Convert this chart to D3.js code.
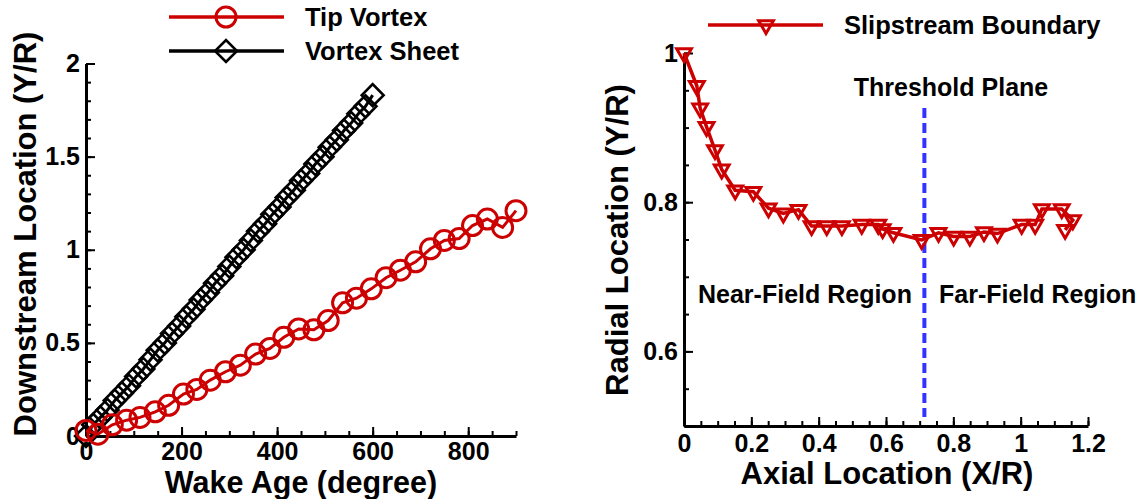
<!DOCTYPE html>
<html>
<head>
<meta charset="utf-8">
<script src="https://cdn.jsdelivr.net/npm/d3@7"></script>
<style>
  body { margin: 0; background: #fff; }
  svg text { font-family: "Liberation Sans", Arial, sans-serif; font-weight: bold; fill: #000; }
</style>
</head>
<body>
<svg id="chart" width="1141" height="499"></svg>
<script>
// ---- data: left panel (wake age in degrees, downstream location Y/R)
var tipAge = [0, 25, 55, 85, 113, 145, 173, 204, 232, 260, 292, 323, 355, 385, 414, 445,
  477, 507, 537, 566, 597, 628, 658, 690, 721, 750, 781, 809, 840, 872, 900];
var tipY = [0.03, 0.01, 0.06, 0.085, 0.10, 0.13, 0.165, 0.225, 0.25, 0.30, 0.345, 0.38, 0.44, 0.47, 0.53, 0.575,
  0.57, 0.62, 0.715, 0.74, 0.79, 0.85, 0.89, 0.935, 1.005, 1.05, 1.06, 1.13, 1.165, 1.12, 1.21];

var sheetAge = [0, 15, 30, 45, 60, 75, 90, 105, 120, 135, 150, 165, 180, 195, 210, 225, 240, 255, 270, 285,
  300, 315, 330, 345, 360, 375, 390, 405, 420, 435, 450, 465, 480, 495, 510, 525, 540, 555, 570, 585, 600];
var sheetY = [0.00, 0.06, 0.10, 0.14, 0.19, 0.23, 0.27, 0.32, 0.36, 0.41, 0.46, 0.50, 0.55, 0.59, 0.64, 0.68,
  0.73, 0.77, 0.82, 0.86, 0.91, 0.96, 1.00, 1.05, 1.10, 1.14, 1.19, 1.23, 1.28, 1.32, 1.37, 1.41, 1.46, 1.50,
  1.55, 1.59, 1.64, 1.68, 1.73, 1.77, 1.83];

// ---- data: right panel (axial X/R, radial Y/R)
var slipX = [0, 0.038, 0.048, 0.067, 0.092, 0.112, 0.152, 0.206, 0.251, 0.295, 0.340, 0.379, 0.424, 0.469,
  0.528, 0.577, 0.590, 0.622, 0.706, 0.756, 0.801, 0.849, 0.891, 0.931, 1.003, 1.043, 1.063, 1.122, 1.155, 1.132];
var slipY = [1.0, 0.956, 0.926, 0.901, 0.870, 0.844, 0.816, 0.814, 0.792, 0.785, 0.790, 0.768, 0.768, 0.768,
  0.770, 0.770, 0.764, 0.759, 0.7495, 0.759, 0.754, 0.754, 0.760, 0.758, 0.770, 0.770, 0.791, 0.791, 0.776, 0.763];

var thresholdX = 0.714;

var leftXMajor = [0, 200, 400, 600, 800];
var leftYMajor = [0, 0.5, 1, 1.5, 2];
var rightXMajor = [0, 0.2, 0.4, 0.6, 0.8, 1, 1.2];
var rightYMajor = [0.6, 0.8, 1];

var RED = "#cc0000";
var BLUE = "#3333ff";

var svg = d3.select("#chart");

// scales
var xL = d3.scaleLinear().domain([0, 900]).range([86, 516]);
var yL = d3.scaleLinear().domain([0, 2]).range([436, 63.5]);
var xR = d3.scaleLinear().domain([0, 1.2]).range([684, 1088]);
var yR = d3.scaleLinear().domain([0.5, 1]).range([426, 53]);

function fmt(d) { return d3.format("~g")(d); }

// inward ticks: minor set without labels, major set with labels
function drawAxis(g, axisFn, scale, minor, major, pad) {
  var gMinor = g.append("g")
    .call(axisFn(scale).tickValues(minor).tickSize(-5).tickSizeOuter(0).tickFormat(""));
  g.append("g")
    .call(axisFn(scale).tickValues(major).tickSize(-9).tickSizeOuter(0).tickPadding(pad).tickFormat(fmt));
  gMinor.select(".domain").remove();
  g.selectAll("line").attr("stroke", "#000").attr("stroke-width", 2);
  g.selectAll(".domain").attr("stroke", "#000").attr("stroke-width", 3);
  g.selectAll("text").style("font-size", "25px").style("font-family", '"Liberation Sans", Arial, sans-serif')
    .style("font-weight", "bold").attr("fill", "#000");
  return g;
}

// ---------------- left panel
var left = svg.append("g");

drawAxis(left.append("g").attr("transform", "translate(0," + yL(0) + ")"), d3.axisBottom, xL,
  d3.range(0, 901, 50), leftXMajor, 6);
drawAxis(left.append("g").attr("transform", "translate(" + xL(0) + ",0)"), d3.axisLeft, yL,
  d3.range(0, 21).map(function (i) { return i / 10; }), leftYMajor, 6);

var lineL = d3.line().x(function (d) { return xL(d[0]); }).y(function (d) { return yL(d[1]); });

var sheetPts = d3.zip(sheetAge, sheetY);
var tipPts = d3.zip(tipAge, tipY);
var diamond = d3.symbol().type(d3.symbolSquare).size(240);

left.append("path").datum(sheetPts).attr("d", lineL)
  .attr("fill", "none").attr("stroke", "#000").attr("stroke-width", 3);
left.selectAll(".dia").data(sheetPts).enter().append("path")
  .attr("d", diamond)
  .attr("transform", function (d) { return "translate(" + xL(d[0]) + "," + yL(d[1]) + ") rotate(45)"; })
  .attr("fill", "none").attr("stroke", "#000").attr("stroke-width", 2.6);

left.append("path").datum(tipPts).attr("d", lineL)
  .attr("fill", "none").attr("stroke", RED).attr("stroke-width", 3);
left.selectAll(".circ").data(tipPts).enter().append("circle")
  .attr("cx", function (d) { return xL(d[0]); })
  .attr("cy", function (d) { return yL(d[1]); })
  .attr("r", 10)
  .attr("fill", "none").attr("stroke", RED).attr("stroke-width", 3);

// axis titles
left.append("text").attr("x", 301).attr("y", 493).attr("text-anchor", "middle")
  .style("font-size", "30.5px").text("Wake Age (degree)");
left.append("text").attr("transform", "translate(36,234) rotate(-90)").attr("text-anchor", "middle")
  .style("font-size", "31px").text("Downstream Location (Y/R)");

// legend
var legL = left.append("g");
legL.append("line").attr("x1", 169).attr("x2", 284).attr("y1", 17).attr("y2", 17)
  .attr("stroke", RED).attr("stroke-width", 3.5);
legL.append("circle").attr("cx", 226).attr("cy", 17).attr("r", 10)
  .attr("fill", "none").attr("stroke", RED).attr("stroke-width", 3);
legL.append("text").attr("x", 305).attr("y", 26).style("font-size", "25.5px").text("Tip Vortex");
legL.append("line").attr("x1", 169).attr("x2", 284).attr("y1", 51).attr("y2", 51)
  .attr("stroke", "#000").attr("stroke-width", 3.5);
legL.append("path").attr("d", diamond)
  .attr("transform", "translate(226,51) rotate(45)")
  .attr("fill", "none").attr("stroke", "#000").attr("stroke-width", 2.6);
legL.append("text").attr("x", 305).attr("y", 60).style("font-size", "25.5px").text("Vortex Sheet");

// ---------------- right panel
var right = svg.append("g");

drawAxis(right.append("g").attr("transform", "translate(0," + yR(0.5) + ")"), d3.axisBottom, xR,
  d3.range(0, 25).map(function (i) { return i * 0.05; }), rightXMajor, 8);
drawAxis(right.append("g").attr("transform", "translate(" + xR(0) + ",0)"), d3.axisLeft, yR,
  d3.range(10, 21).map(function (i) { return i * 0.05; }), rightYMajor, 6);

// threshold plane
right.append("line").attr("x1", xR(thresholdX)).attr("x2", xR(thresholdX))
  .attr("y1", 108).attr("y2", 417)
  .attr("stroke", BLUE).attr("stroke-width", 4).attr("stroke-dasharray", "10,5");

var lineR = d3.line().x(function (d) { return xR(d[0]); }).y(function (d) { return yR(d[1]); });
var slipPts = d3.zip(slipX, slipY);
var triDown = d3.symbol().type(d3.symbolTriangle).size(95);

right.append("path").datum(slipPts).attr("d", lineR)
  .attr("fill", "none").attr("stroke", RED).attr("stroke-width", 3.5);
right.selectAll(".tri").data(slipPts).enter().append("path")
  .attr("d", triDown)
  .attr("transform", function (d) { return "translate(" + xR(d[0]) + "," + yR(d[1]) + ") rotate(180)"; })
  .attr("fill", "none").attr("stroke", RED).attr("stroke-width", 3);

// annotations
right.append("text").attr("x", 951).attr("y", 96).attr("text-anchor", "middle")
  .style("font-size", "25px").text("Threshold Plane");
right.append("text").attr("x", 698).attr("y", 303).style("font-size", "25px").text("Near-Field Region");
right.append("text").attr("x", 939).attr("y", 303).style("font-size", "25px").text("Far-Field Region");

// axis titles
right.append("text").attr("x", 887).attr("y", 484).attr("text-anchor", "middle")
  .style("font-size", "31px").text("Axial Location (X/R)");
right.append("text").attr("transform", "translate(628,240) rotate(-90)").attr("text-anchor", "middle")
  .style("font-size", "31px").text("Radial Location (Y/R)");

// legend
var legR = right.append("g");
legR.append("line").attr("x1", 708).attr("x2", 823).attr("y1", 25).attr("y2", 25)
  .attr("stroke", RED).attr("stroke-width", 3.5);
legR.append("path").attr("d", triDown).attr("transform", "translate(766,25) rotate(180)")
  .attr("fill", "none").attr("stroke", RED).attr("stroke-width", 3);
legR.append("text").attr("x", 844).attr("y", 34).style("font-size", "25.5px").text("Slipstream Boundary");
</script>
</body>
</html>
